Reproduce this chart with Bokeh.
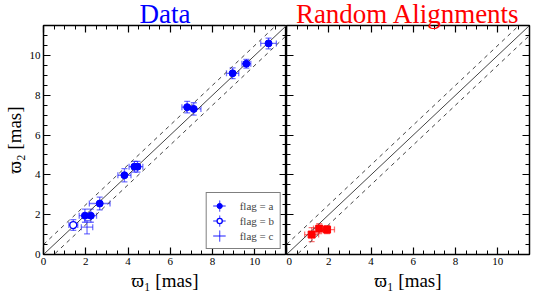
from bokeh.plotting import figure
from bokeh.models import (ColumnDataSource, Whisker, TeeHead, LinearAxis, SingleIntervalTicker,
                          Legend, LegendItem, Title, CustomJSTickFormatter)
from bokeh.layouts import row
from bokeh.embed import file_html
from bokeh.resources import INLINE

# ---------------- data ----------------
a_x = [10.65, 9.60, 8.95, 6.80, 7.11, 3.83, 4.30, 4.45, 2.66, 1.96, 2.24]
a_y = [10.60, 9.58, 9.10, 7.40, 7.31, 3.98, 4.41, 4.41, 2.56, 1.95, 1.95]
a_xerr = [0.37, 0.21, 0.29, 0.25, 0.34, 0.31, 0.25, 0.25, 0.49, 0.27, 0.27]
a_yerr = [0.27, 0.22, 0.27, 0.29, 0.31, 0.33, 0.27, 0.27, 0.32, 0.33, 0.33]

b_x = [1.41]
b_y = [1.48]
b_xerr = [0.21]
b_yerr = [0.27]

c_x = [2.06]
c_y = [1.37]
c_xerr = [0.27]
c_yerr = [0.33]

r_x = [1.19, 1.55, 1.92]
r_y = [1.00, 1.30, 1.25]
r_xerr = [0.33, 0.27, 0.35]
r_yerr = [0.35, 0.25, 0.20]

diag = [0.0, 11.5]
band = 0.5
axis_range = (0, 11.5)
tick_interval = 2
labels = ["flag = a", "flag = b", "flag = c"]
titles = ["Data", "Random Alignments"]

SERIF = "Liberation Serif"
BLUE = "#0000ff"
RED = "#ff0000"
NAN = float("nan")


def src(x, y, xe, ye):
    return ColumnDataSource(dict(
        x=x, y=y,
        xlo=[a - e for a, e in zip(x, xe)], xhi=[a + e for a, e in zip(x, xe)],
        ylo=[a - e for a, e in zip(y, ye)], yhi=[a + e for a, e in zip(y, ye)],
    ))


def errorbars(p, s, color):
    for dim, lo, hi in (("width", "xlo", "xhi"), ("height", "ylo", "yhi")):
        base = "y" if dim == "width" else "x"
        w = Whisker(source=s, base=base, lower=lo, upper=hi, dimension=dim,
                    line_color=color, line_alpha=0.55, line_width=1.3,
                    upper_head=TeeHead(size=6, line_color=color, line_alpha=0.55, line_width=1.3),
                    lower_head=TeeHead(size=6, line_color=color, line_alpha=0.55, line_width=1.3))
        p.add_layout(w)


def style_axis(ax, show_labels):
    ax.ticker = SingleIntervalTicker(interval=tick_interval, num_minor_ticks=4)
    ax.major_tick_in = 7
    ax.major_tick_out = 0
    ax.minor_tick_in = 4
    ax.minor_tick_out = 0
    ax.major_tick_line_color = "black"
    ax.minor_tick_line_color = "black"
    ax.major_tick_line_width = 1.2
    ax.minor_tick_line_width = 1
    ax.axis_line_color = "black"
    ax.axis_line_width = 1.2
    ax.major_label_text_font = SERIF
    ax.major_label_text_color = "black"
    if show_labels:
        ax.major_label_text_font_size = "11px"
        ax.major_label_standoff = 3
    else:
        ax.major_label_text_font_size = "0px"
        ax.major_label_standoff = 0
        ax.formatter = CustomJSTickFormatter(code="return ''")
    ax.axis_label_text_font = SERIF
    ax.axis_label_text_font_style = "normal"
    ax.axis_label_text_font_size = "19px"
    ax.axis_label_text_color = "black"
    ax.axis_label_standoff = 2


def make_fig(title, color, left_labels, min_left, min_right):
    p = figure(frame_width=243, frame_height=229, x_range=axis_range, y_range=axis_range,
               output_backend="svg", toolbar_location=None,
               min_border_left=min_left, min_border_right=min_right,
               min_border_top=0, min_border_bottom=0,
               title=None)
    p.xgrid.visible = False
    p.ygrid.visible = False
    p.outline_line_color = "black"
    p.outline_line_width = 1.3
    p.background_fill_color = "white"
    p.border_fill_color = "white"
    style_axis(p.xaxis[0], True)
    p.xaxis[0].axis_label = "ϖ₁ [mas]"
    style_axis(p.yaxis[0], left_labels)
    if left_labels:
        p.yaxis[0].axis_label = "ϖ₂ [mas]"
    for loc in ("right", "above"):
        ax = LinearAxis()
        style_axis(ax, False)
        p.add_layout(ax, loc)
    t = Title(text=title, align="center", text_font=SERIF, text_font_size="27px",
              text_font_style="normal", text_color=color, standoff=-7)
    p.add_layout(t, "above")
    # reference lines
    p.line(diag, diag, line_color="#444444", line_width=1)
    p.line(diag, [v + band for v in diag], line_color="#444444", line_width=1, line_dash="4 4")
    p.line(diag, [v - band for v in diag], line_color="#444444", line_width=1, line_dash="4 4")
    return p


# ---------------- left panel ----------------
p1 = make_fig(titles[0], BLUE, True, 35, 0)
sa, sb, sc = src(a_x, a_y, a_xerr, a_yerr), src(b_x, b_y, b_xerr, b_yerr), src(c_x, c_y, c_xerr, c_yerr)
for s in (sa, sb, sc):
    errorbars(p1, s, BLUE)
ra = p1.scatter("x", "y", source=sa, marker="circle", size=7, fill_color=BLUE, line_color=BLUE)
rb = p1.scatter("x", "y", source=sb, marker="circle", size=7, fill_color="white", line_color=BLUE, line_width=1.3)


# legend proxies: error-bar cross glyph (NaN data, so nothing is drawn in the plot area)
def errbar_proxy():
    h = p1.hspan(y=[NAN], line_color=BLUE, line_alpha=0.6, line_width=1.3)
    v = p1.ellipse(x=[NAN], y=[NAN], width=[0.01], height=[10], width_units="screen",
                   height_units="screen", fill_alpha=0, line_color=BLUE, line_alpha=0.6, line_width=1.3)
    return [h, v]


lg = Legend(items=[LegendItem(label=labels[0], renderers=errbar_proxy() + [ra]),
                   LegendItem(label=labels[1], renderers=errbar_proxy() + [rb]),
                   LegendItem(label=labels[2], renderers=errbar_proxy())],
            location="bottom_right", label_text_font=SERIF, label_text_font_size="11px",
            border_line_color="black", border_line_width=1.2, background_fill_alpha=1,
            glyph_width=13, glyph_height=13, label_height=12, spacing=2, padding=6,
            label_standoff=14, margin=5)
p1.add_layout(lg)

# ---------------- right panel ----------------
p2 = make_fig(titles[1], RED, False, 0, 2)
sr = src(r_x, r_y, r_xerr, r_yerr)
errorbars(p2, sr, RED)
p2.scatter("x", "y", source=sr, marker="square", size=7, fill_color=RED, line_color=RED)

layout = row(p1, p2)
open("out.html", "w").write(file_html(layout, INLINE))
